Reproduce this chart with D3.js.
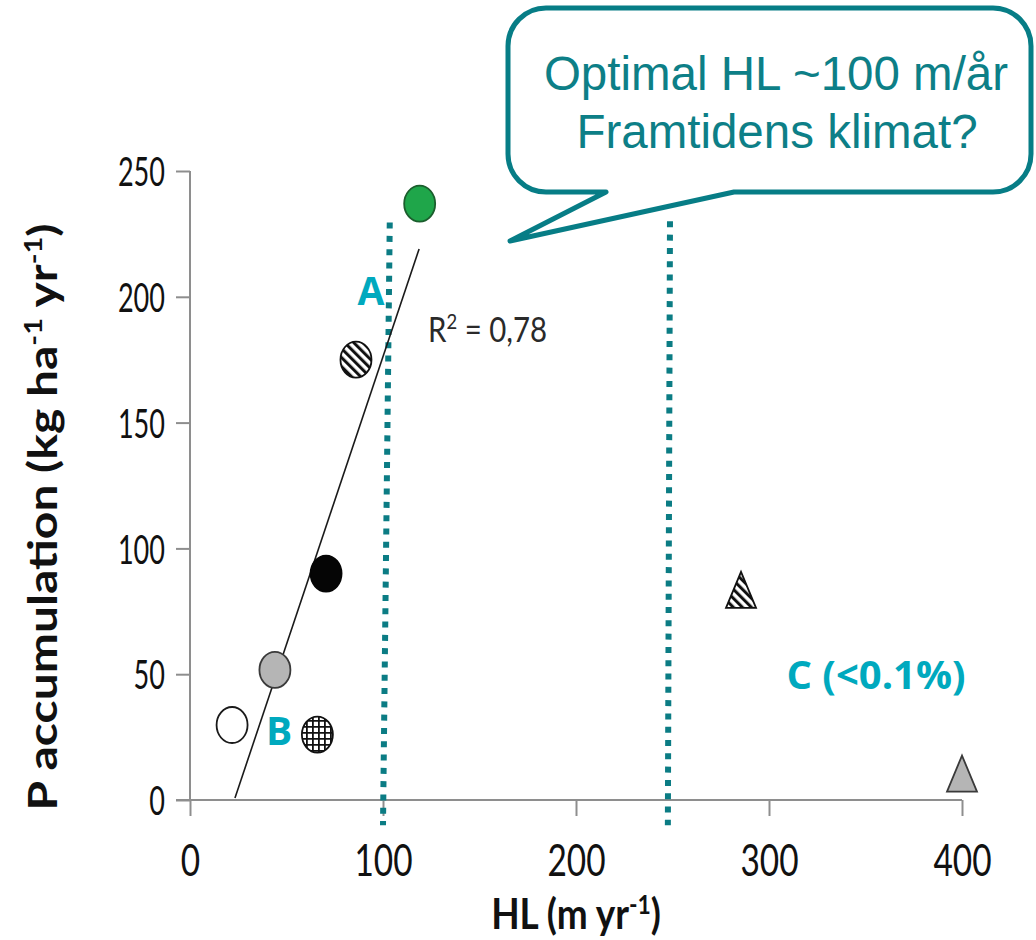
<!DOCTYPE html>
<html>
<head>
<meta charset="utf-8">
<script src="https://cdn.jsdelivr.net/npm/d3@7/dist/d3.min.js"></script>
<style>
  html, body { margin: 0; padding: 0; background: #ffffff; }
  svg { display: block; }
</style>
</head>
<body>
<script>
// Hydraulic load (HL, m/yr) vs. phosphorus accumulation (kg/ha/yr)
const circleKinds = ["open", "grey", "checked", "solid", "striped", "green"];
const circleHL    = [21.8, 44, 66, 70.5, 86, 119];
const circleP     = [29.8, 51.7, 26, 90, 175, 237];

const triangleKinds = ["striped", "grey"];
const triangleHL    = [285.5, 400];
const triangleP     = [83.5, 10.5];

// fitted regression line endpoints
const trendHL = [23.3, 118.7];
const trendP  = [0.8, 219];

// dotted reference lines (top and bottom ends)
const refTopHL    = [103.5, 248.7];
const refTopP     = [229.5, 230];
const refBottomHL = [100, 247.6];
const refBottomP  = [-10, -10];

const xTicks = [0, 100, 200, 300, 400];
const yTicks = [0, 50, 100, 150, 200, 250];

const W = 1036, H = 940;
const svg = d3.select("body").append("svg").attr("width", W).attr("height", H);

const x = d3.scaleLinear().domain([0, 400]).range([190, 962]);
const y = d3.scaleLinear().domain([0, 250]).range([800, 171]);

const defs = svg.append("defs");
// downward diagonal stripes
const stripe = defs.append("pattern").attr("id", "stripes")
  .attr("patternUnits", "userSpaceOnUse").attr("width", 6.4).attr("height", 6.4)
  .attr("patternTransform", "rotate(-45)");
stripe.append("rect").attr("width", 6.4).attr("height", 6.4).attr("fill", "#fff");
stripe.append("rect").attr("width", 3).attr("height", 6.4).attr("fill", "#111");
// small checked grid
const grid = defs.append("pattern").attr("id", "grid")
  .attr("patternUnits", "userSpaceOnUse").attr("width", 6).attr("height", 6);
grid.append("rect").attr("width", 6).attr("height", 6).attr("fill", "#fff");
grid.append("path").attr("d", "M0,0.9H6M0.9,0V6").attr("stroke", "#111").attr("stroke-width", 1.8);

const markerStyle = {
  open:    { fill: "#ffffff", stroke: "#1a1a1a" },
  grey:    { fill: "#b5b5b5", stroke: "#3a3a3a" },
  checked: { fill: "url(#grid)", stroke: "#111" },
  solid:   { fill: "#050505", stroke: "#050505" },
  striped: { fill: "url(#stripes)", stroke: "#111" },
  green:   { fill: "#1fa64a", stroke: "#1b5e2d" }
};

const axisColor = "#8e8e8e";
const chartFont = "Lato, 'Open Sans', sans-serif";

// y axis
const yAxis = d3.axisLeft(y).tickValues(yTicks).tickSize(14).tickPadding(0).tickFormat(d3.format("d"));
const gy = svg.append("g").attr("transform", "translate(190,0)").call(yAxis);
gy.select(".domain").attr("stroke", axisColor).attr("stroke-width", 2).attr("d", `M0,${y(250)}V${y(0)}`);
gy.selectAll(".tick line").attr("stroke", axisColor).attr("stroke-width", 2);
gy.selectAll(".tick text").remove();
gy.selectAll(".tick").append("g")
  .attr("transform", "translate(-25,0) scale(0.66,1)")
  .append("text")
  .attr("text-anchor", "end").attr("dy", "0.36em")
  .attr("font-family", chartFont).attr("font-size", 41).attr("fill", "#111")
  .text(d => d);

// x axis
const xAxis = d3.axisBottom(x).tickValues(xTicks).tickSize(16).tickPadding(0).tickFormat(d3.format("d"));
const gx = svg.append("g").attr("transform", "translate(0,800)").call(xAxis);
gx.select(".domain").attr("stroke", axisColor).attr("stroke-width", 2).attr("d", `M176,0H${x(400)}`);
gx.selectAll(".tick line").attr("stroke", axisColor).attr("stroke-width", 2);
gx.selectAll(".tick text").remove();
gx.selectAll(".tick").append("g")
  .attr("transform", "translate(0,76) scale(0.76,1)")
  .append("text")
  .attr("text-anchor", "middle")
  .attr("font-family", chartFont).attr("font-size", 44).attr("fill", "#111")
  .text(d => d);

// axis titles
const xt = svg.append("g").attr("transform", "translate(576,929) scale(0.88,1)")
  .append("text").attr("text-anchor", "middle")
  .attr("font-family", chartFont).attr("font-weight", 700).attr("font-size", 42).attr("fill", "#111");
xt.append("tspan").text("HL (m yr");
xt.append("tspan").attr("font-size", 26).attr("dy", -15).text("-1");
xt.append("tspan").attr("dy", 15).text(")");

const yt = svg.append("g").attr("transform", "translate(57,517) scale(0.85,1) rotate(-90)")
  .append("text").attr("text-anchor", "middle")
  .attr("font-family", chartFont).attr("font-weight", 700).attr("font-size", 48).attr("fill", "#111");
yt.append("tspan").text("P accumulation  (kg ha");
yt.append("tspan").attr("font-size", 29).attr("dy", -18).text("-1");
yt.append("tspan").attr("dy", 18).text(" yr");
yt.append("tspan").attr("font-size", 29).attr("dy", -18).text("-1");
yt.append("tspan").attr("dy", 18).text(")");

// dotted reference lines
const teal = "#0b7c84";
svg.append("g").selectAll("line").data(refTopHL).join("line")
  .attr("x1", (d, i) => x(refTopHL[i])).attr("y1", (d, i) => y(refTopP[i]))
  .attr("x2", (d, i) => x(refBottomHL[i])).attr("y2", (d, i) => y(refBottomP[i]))
  .attr("stroke", teal).attr("stroke-width", 6).attr("stroke-dasharray", "6,7.3");

// regression line
svg.append("line")
  .attr("x1", x(trendHL[0])).attr("y1", y(trendP[0]))
  .attr("x2", x(trendHL[1])).attr("y2", y(trendP[1]))
  .attr("stroke", "#1a1a1a").attr("stroke-width", 1.6);

// circles
svg.append("g").selectAll("ellipse").data(circleKinds).join("ellipse")
  .attr("cx", (d, i) => x(circleHL[i])).attr("cy", (d, i) => y(circleP[i]))
  .attr("rx", 15.5).attr("ry", 18)
  .attr("fill", d => markerStyle[d].fill)
  .attr("stroke", d => markerStyle[d].stroke).attr("stroke-width", 1.8);

// triangles
svg.append("g").selectAll("path").data(triangleKinds).join("path")
  .attr("transform", (d, i) => `translate(${x(triangleHL[i])},${y(triangleP[i])})`)
  .attr("d", "M0,-18L15,18L-15,18Z")
  .attr("fill", d => markerStyle[d].fill)
  .attr("stroke", d => markerStyle[d].stroke).attr("stroke-width", 1.8)
  .attr("stroke-linejoin", "miter");

// R² label
const r2 = svg.append("g").attr("transform", "translate(428,342) scale(0.84,1)")
  .append("text").attr("font-family", chartFont).attr("font-size", 35).attr("fill", "#2a2a2a");
r2.append("tspan").text("R");
r2.append("tspan").attr("font-size", 22).attr("dy", -13).text("2");
r2.append("tspan").attr("dy", 13).text(" = 0,78");

// group labels
const cyan = "#00a9be";
const labelFont = "'Open Sans', Lato, sans-serif";
svg.append("text").attr("x", 371).attr("y", 305).attr("text-anchor", "middle")
  .attr("font-family", labelFont).attr("font-weight", 700).attr("font-size", 39).attr("fill", cyan).text("A");
svg.append("text").attr("x", 279).attr("y", 745).attr("text-anchor", "middle")
  .attr("font-family", labelFont).attr("font-weight", 700).attr("font-size", 39).attr("fill", cyan).text("B");
svg.append("text").attr("x", 876).attr("y", 689).attr("text-anchor", "middle")
  .attr("font-family", labelFont).attr("font-weight", 700).attr("font-size", 40).attr("fill", cyan).text("C (<0.1%)");

// speech-bubble callout
const bubble = "M546,8H993A38,38 0 0 1 1031,46V154A38,38 0 0 1 993,192H734L510,241L606,192H546A38,38 0 0 1 508,154V46A38,38 0 0 1 546,8Z";
svg.append("path").attr("d", bubble)
  .attr("fill", "#ffffff").attr("stroke", "#077d86").attr("stroke-width", 5).attr("stroke-linejoin", "round");
const bubbleText = svg.append("text").attr("text-anchor", "middle")
  .attr("font-family", "'Liberation Sans', Arial, sans-serif").attr("font-size", 47.5).attr("fill", "#0d7f87");
bubbleText.append("tspan").attr("x", 776).attr("y", 90).text("Optimal HL ~100 m/år");
bubbleText.append("tspan").attr("x", 777).attr("y", 148).text("Framtidens klimat?");
</script>
</body>
</html>
